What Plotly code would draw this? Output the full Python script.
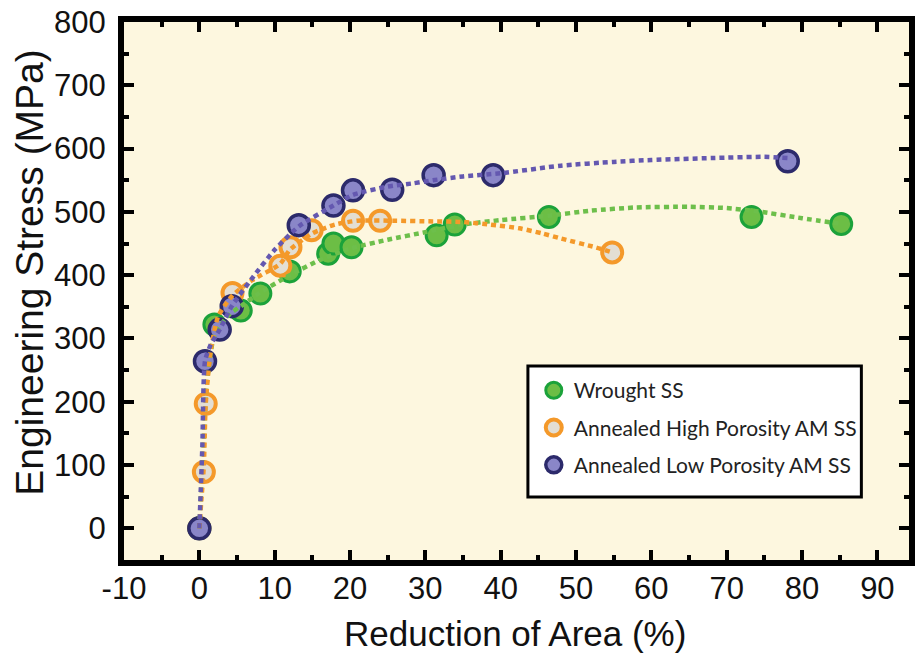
import plotly.graph_objects as go

# ---- data ----
wrought_x = [0, 2.0, 5.5, 8.1, 12.0, 17.1, 17.8, 20.2, 31.5, 33.9, 46.4, 73.3, 85.2]
wrought_y = [0, 322, 344, 371, 406, 434, 450, 444, 463, 480, 492, 492, 481]

high_x = [0, 0.6, 0.85, 4.4, 10.75, 12.1, 14.9, 20.4, 24.0, 54.8]
high_y = [0, 89, 197, 372, 415, 444, 471, 486, 486, 436]

low_x = [0, 0.75, 2.7, 4.3, 13.2, 17.8, 20.4, 25.6, 31.1, 39.0, 78.1]
low_y = [0, 264, 314, 351, 479, 510, 534, 535, 558, 558, 580]

# trend curves
wrought_fit_x = [0, 0.5, 1, 2, 4, 6, 8, 12, 16, 20, 25, 30, 35, 40, 46.4, 52, 58, 65, 70, 74, 80, 85.2]
wrought_fit_y = [0, 120, 230, 305, 338, 355, 372, 400, 424, 442, 456, 468, 480, 487, 494, 502, 507, 508, 506, 501, 490, 481]

high_fit_x = [0, 0.3, 0.6, 0.85, 1.5, 2.5, 4.4, 7, 10.75, 12, 15, 18, 21, 26, 31, 35, 38.5, 42.5, 45.5, 48, 52.6, 54.8]
high_fit_y = [0, 50, 100, 197, 280, 335, 368, 392, 418, 440, 466, 480, 486, 486, 485, 484, 480, 474, 466, 458, 444, 436]

low_fit_x = [0, 0.4, 0.75, 1.5, 2.7, 4.3, 7, 10, 13.2, 17.8, 20.4, 25, 28.3, 31, 35, 40, 48, 55, 60, 68, 75, 78.1]
low_fit_y = [0, 130, 264, 290, 314, 351, 395, 440, 477, 510, 527, 540, 545, 550, 556, 561, 573, 579, 582, 585, 587, 585]

x_tick_vals = [-10, 0, 10, 20, 30, 40, 50, 60, 70, 80, 90]
x_tick_text = ["-10", "0", "10", "20", "30", "40", "50", "60", "70", "80", "90"]
y_tick_vals = [0, 100, 200, 300, 400, 500, 600, 700, 800]
y_tick_text = ["0", "100", "200", "300", "400", "500", "600", "700", "800"]

names = ["Wrought SS", "Annealed High Porosity AM SS", "Annealed Low Porosity AM SS"]
x_title = "Reduction of Area (%)"
y_title = "Engineering Stress (MPa)"

fig = go.Figure()

marker_styles = [
    dict(size=21, color="#6CBE45", line=dict(color="#1BA23A", width=3)),
    dict(size=20, color="#E3DED3", line=dict(color="#F4992A", width=4)),
    dict(size=21, color="#8A86C8", line=dict(color="#2C2A6B", width=3.5)),
]
pts = [(wrought_x, wrought_y), (high_x, high_y), (low_x, low_y)]
for i, (xs, ys) in enumerate(pts):
    fig.add_trace(go.Scatter(x=xs, y=ys, mode="markers", name=names[i],
                             marker=marker_styles[i], legendgroup=str(i)))

line_colors = ["#6DBF4B", "#F4992A", "#6458B0"]
fits = [(wrought_fit_x, wrought_fit_y), (high_fit_x, high_fit_y), (low_fit_x, low_fit_y)]
for i, (xs, ys) in enumerate(fits):
    fig.add_trace(go.Scatter(x=xs, y=ys, mode="lines", showlegend=False,
                             line=dict(color=line_colors[i], width=4.5, dash="5px,4px",
                                       shape="spline", smoothing=0.6),
                             hoverinfo="skip"))

FONT = "Liberation Sans, Arial, sans-serif"
tick_font = dict(family=FONT, size=31, color="#111")

fig.update_layout(
    width=915, height=664,
    margin=dict(l=124, r=0, t=22, b=104),
    paper_bgcolor="white",
    plot_bgcolor="#FDF7DF",
    showlegend=True,
    legend=dict(x=0.522, y=0.353, xanchor="left", yanchor="top",
                bgcolor="rgba(0,0,0,0)", borderwidth=0,
                font=dict(family="Lato, Open Sans, sans-serif", size=21, color="#222"),
                tracegroupgap=7, traceorder="grouped"),
    shapes=[dict(type="rect", xref="paper", yref="paper",
                 x0=(531 - 124) / 791, x1=(867 - 124) / 791,
                 y0=(560 - 497) / 538, y1=(560 - 366) / 538,
                 fillcolor="white", line=dict(color="black", width=3), layer="above")],
    annotations=[
        dict(text=y_title, xref="paper", yref="paper", x=(28 - 124) / 791, y=(560 - 272) / 538,
             xanchor="center", yanchor="middle", textangle=-90, showarrow=False,
             font=dict(family=FONT, size=39, color="#111")),
        dict(text=x_title, xref="paper", yref="paper", x=(518 - 124) / 791, y=(560 - 634) / 538,
             xanchor="center", yanchor="middle", showarrow=False,
             font=dict(family=FONT, size=35, color="#111")),
    ],
)

fig.update_xaxes(
    range=[-10, 94.2], tickmode="array", tickvals=x_tick_vals, ticktext=x_tick_text,
    ticks="inside", ticklen=10, tickwidth=4, tickcolor="black",
    showline=True, linewidth=6, linecolor="black", mirror="ticks",
    showgrid=False, zeroline=False,
    tickfont=tick_font, ticklabelstandoff=-4,
    minor=dict(dtick=5, tick0=0, ticks="inside", ticklen=5, tickwidth=4, tickcolor="black", showgrid=False),
)
fig.update_yaxes(
    range=[-50, 800], tickmode="array", tickvals=y_tick_vals, ticktext=y_tick_text,
    ticks="inside", ticklen=10, tickwidth=4, tickcolor="black",
    showline=True, linewidth=6, linecolor="black", mirror="ticks",
    showgrid=False, zeroline=False,
    tickfont=tick_font, ticklabelstandoff=6,
    minor=dict(dtick=50, tick0=0, ticks="inside", ticklen=5, tickwidth=4, tickcolor="black", showgrid=False),
)

fig.write_html("out.html")
